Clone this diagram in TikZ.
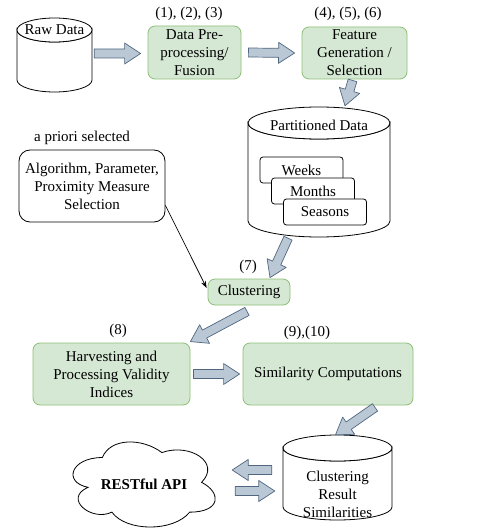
\documentclass[tikz,border=0pt]{standalone}
\usepackage{fontspec}
\setmainfont{Liberation Serif}
\usetikzlibrary{calc,arrows.meta}

\definecolor{boxgreen}{HTML}{D5E8D4}
\definecolor{boxgreenline}{HTML}{8DBF74}
\definecolor{arrowfill}{HTML}{BAC8D6}
\definecolor{arrowline}{HTML}{51677F}

% broad outlined arrow from #1 to #2
\newcommand\flowarrow[2]{%
  \path[blockarrow] let \p1=(#1), \p2=(#2),
      \n1={atan2(\y2-\y1,\x2-\x1)}, \n2={veclen(\x2-\x1,\y2-\y1)-16pt} in
    ($(\p1)+({\n1+90}:4.5pt)$)
    -- ($(\p1)+(\n1:\n2)+({\n1+90}:4.5pt)$)
    -- ($(\p1)+(\n1:\n2)+({\n1+90}:10.5pt)$)
    -- (\p2)
    -- ($(\p1)+(\n1:\n2)+({\n1-90}:10.5pt)$)
    -- ($(\p1)+(\n1:\n2)+({\n1-90}:4.5pt)$)
    -- ($(\p1)+({\n1-90}:4.5pt)$) -- cycle;}

% database drum: name, left, right, top centre, bottom centre, y radius
\newcommand\datastore[6]{%
  \path[store] (#2,#4) -- (#2,#5)
    arc[start angle=180, end angle=0, x radius={(#3-#2)/2}, y radius=#6]
    -- (#3,#4)
    arc[start angle=0, end angle=180, x radius={(#3-#2)/2}, y radius=#6] -- cycle;
  \path[store] ({(#2+#3)/2},#4) ellipse[x radius={(#3-#2)/2}, y radius=#6];
  \node[inner sep=0pt, minimum width={#3-#2}, minimum height={#5-#4+2*#6}]
    (#1) at ({(#2+#3)/2},{(#4+#5)/2}) {};}

\begin{document}
\begin{tikzpicture}[
    x=1pt, y=-1pt, font=\fontsize{15}{18}\selectfont,
    task/.style={draw=boxgreenline, fill=boxgreen, line width=0.8pt,
      rounded corners=7pt, align=center, inner sep=0pt},
    choice/.style={draw, fill=white, line width=0.8pt, rounded corners=11pt,
      align=center, inner sep=0pt},
    slice/.style={draw, fill=white, line width=0.8pt, rounded corners=3pt,
      minimum width=83, minimum height=26, inner sep=0pt},
    store/.style={draw, fill=white, line width=0.8pt},
    blockarrow/.style={draw=arrowline, fill=arrowfill, line width=0.7pt,
      line join=round}
    ]
    \useasboundingbox (0,0) rectangle (480,529);

    % sources and preparation
    \datastore{rawdb}{17}{92}{30}{80}{12}
    \node (raw) at (54.5,30) {Raw Data};
    \node[task, minimum width=93, minimum height=53] (pre) at (194.5,52.5)
      {Data Pre-\\processing/\\Fusion};
    \node (prelbl) at (189,14) {(1), (2), (3)};
    \node[task, minimum width=105, minimum height=52] (feat) at (354.5,53)
      {Feature\\Generation /\\Selection};
    \node (featlbl) at (348,14) {(4), (5), (6)};

    % partitions
    \datastore{partdb}{248}{390}{123}{221}{16}
    \node (part) at (319,125) {Partitioned Data};
    \node[slice] (weeks) at (301.5,170) {Weeks};
    \node[slice] (months) at (313,191) {Months};
    \node[slice] (seasons) at (325,212) {Seasons};

    % clustering
    \node (prior) at (82,138) {a priori selected};
    \node[choice, minimum width=146, minimum height=72] (algo) at (92,186)
      {Algorithm, Parameter,\\Proximity Measure\\Selection};
    \node[task, minimum width=82, minimum height=26] (clus) at (249,292)
      {Clustering};
    \node (cluslbl) at (248,267) {(7)};

    % evaluation
    \node[task, minimum width=157, minimum height=62] (harv) at (111.5,374)
      {Harvesting and\\Processing Validity\\Indices};
    \node (harvlbl) at (118,331) {(8)};
    \node[task, minimum width=170, minimum height=62] (sim) at (328,374)
      {Similarity Computations};
    \node (simlbl) at (307,333) {(9),(10)};

    % results
    \datastore{resdb}{283}{392}{448}{507}{13}
    \node[align=center] (res) at (337.5,494) {Clustering\\Result\\Similarities};
    \begin{scope}[shift={(62.7,432.7)}, x=158.7pt, y=-99.3pt]
      \draw[line width=0.8pt, fill=white] (0.25,0.25)
        .. controls (0.05,0.25) and (0,0.5) .. (0.16,0.55)
        .. controls (0,0.66) and (0.18,0.9) .. (0.31,0.8)
        .. controls (0.4,1) and (0.7,1) .. (0.8,0.8)
        .. controls (1,0.8) and (1,0.6) .. (0.875,0.5)
        .. controls (1,0.3) and (0.8,0.1) .. (0.625,0.2)
        .. controls (0.5,0.05) and (0.3,0.05) .. (0.25,0.25) -- cycle;
    \end{scope}
    \node[minimum width=142, minimum height=85, inner sep=0pt,
      font=\fontsize{15}{18}\selectfont\bfseries] (api) at (144,484.5) {RESTful API};

    % flow
    \flowarrow{$(rawdb.east |- pre.west)+(2,1)$}{$(pre.west)+(-7,1)$}
    \flowarrow{$(pre.east)+(7,0)$}{$(feat.west)+(-7,0)$}
    \flowarrow{$(feat.south)+(-2,1)$}{$(partdb.north)+(26,-1)$}
    \flowarrow{$(partdb.south)+(-31,1)$}{$(clus.north)+(21,-1)$}
    \draw[line width=0.7pt, -{Stealth[length=7pt,width=5pt]}]
      ($(algo.south east)+(0,-17)$) -- ($(clus.west)+(-1,-4)$);
    \flowarrow{$(clus.south)+(-2,6)$}{$(harv.north east)+(0,-1)$}
    \flowarrow{$(harv.east)+(3,0)$}{$(sim.west)+(-3,0)$}
    \flowarrow{$(sim.south)+(47,2)$}{$(resdb.north)+(-2,0)$}
    \flowarrow{$(resdb.west)+(-11,-7.5)$}{$(api.east)+(17,-14.5)$}
    \flowarrow{$(api.east)+(20,6.5)$}{$(resdb.west)+(-8,13.5)$}
  \end{tikzpicture}
\end{document}
